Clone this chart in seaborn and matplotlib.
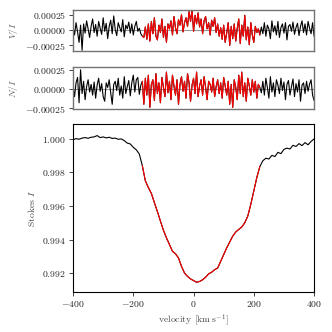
import numpy as np
import pandas as pd
import matplotlib
matplotlib.use("Agg")
import matplotlib.pyplot as plt
import seaborn as sns
from matplotlib.ticker import FuncFormatter, FixedLocator

sns.set_style("ticks")
plt.rcParams['font.family'] = 'serif'
plt.rcParams['font.serif'] = ['cmr10', 'DejaVu Serif']
plt.rcParams['mathtext.fontset'] = 'cm'
plt.rcParams['axes.unicode_minus'] = False
plt.rcParams['axes.formatter.use_mathtext'] = True

# ---- data ----
# Stokes V/I (units of 1e-5), -400..400 km/s
V_left = [5, -8, 12, -3, -20, 8, -33, 10, -5, 15, 2, -12, 6, 18, -4, 9, -10, 14, 3, -7,
          20, -2, 11, -14, 6, 16, -6, 23, 1, -9, 12, 4, -3, 17, -11, 8, 2, 13, -5, 10,
          -8, 6, 14, -2, 3, -6, -10]
V_mid = [-12, 5, -15, 10, -18, 14, -6, 20, -10, -16, 8, -4, 18, -12, 6, -20, 10, 2, 15, -8,
         22, 4, -6, 17, 8, 25, -3, 12, 20, 6, 30, 14, 33, -2, 24, 10, 28, 5, 18, -6,
         15, 22, 2, 12, -8, 16, 6, 20, -4, 10, -10, 4, -15, 8, -20, -5, 12, -25, 6, -14,
         10, -18, 3, 18, -22, 8, -10, 24, -16, 5, -24, 12, -8, -20, 6, -4, 2, -8]
V_right = [5, -6, 12, -10, 8, 2, -14, 15, -3, 7, -8, 14, -12, 4, 10, -5, 12, -16, 6, 9,
           -2, 13, -7, 4, 11, -9, 6, 15, -4, 10, -8, 14, 3, -6, 12, -10]

# Null N/I (units of 1e-5)
N_left = [4, -10, 8, 15, -18, 25, -6, 10, -14, 3, 12, -4, 6, -8, 9, -12, 5, 14, -3, 7,
          -10, -16, 8, 2, 12, -5, -20, 6, 10, -2, 14, -8, 4, -12, 16, -6, 3, 11, -9, 8,
          18, -4, 12, 15, -7, 5, 10]
N_mid = [-20, 14, -8, 18, -24, 6, 12, -15, 20, -6, 8, -18, 15, 2, -10, 22, -5, 10, -14, 18,
         4, -8, 12, -20, 6, 16, -3, 10, -12, 20, 8, -16, 5, 14, -6, 22, -10, 4, 12, -8,
         16, 2, -14, 10, 6, -4, 14, -10, 3, 12, -6, 8, -12, 15, 4, -8, 10, -20, 6, -24,
         12, 2, -14, 18, -6, 22, -10, 8, -16, 14, 4, -8, 12, -4, 10, -12, 6, 2]
N_right = [-5, 10, -8, 14, 2, -12, 16, -4, 8, -10, 12, 5, -6, 14, -2, 9, -14, 6, 11, -8,
           3, 13, -10, 7, -4, 12, -16, 5, 8, -6, 10, -3, 6, 12, -8, -15]

# Stokes I, -400..400 km/s every 10 km/s
I_vals = [0.99995, 1.00002, 0.99998, 1.00005, 1.00008, 1.00004, 1.00010, 1.00012, 1.00020, 1.00008,
          1.00012, 1.00006, 1.00010, 1.00003, 1.00005, 0.99998, 1.00000, 0.99990, 0.99975, 0.99970,
          0.99950, 0.99935, 0.99910, 0.99840, 0.99750, 0.99710, 0.99675, 0.99620, 0.99567, 0.99510,
          0.99455, 0.99410, 0.99370, 0.99330, 0.99315, 0.99290, 0.99240, 0.99200, 0.99180, 0.99165,
          0.99155, 0.99145, 0.99150, 0.99160, 0.99175, 0.99195, 0.99205, 0.99220, 0.99230, 0.99270,
          0.99310, 0.99350, 0.99385, 0.99420, 0.99445, 0.99460, 0.99475, 0.99500, 0.99540, 0.99610,
          0.99690, 0.99770, 0.99835, 0.99870, 0.99885, 0.99880, 0.99902, 0.99895, 0.99920, 0.99912,
          0.99938, 0.99945, 0.99940, 0.99962, 0.99955, 0.99972, 0.99960, 0.99978, 0.99965, 0.99985,
          1.00000]

v_min, v_max = -400, 400
line_lo, line_hi = -170, 220
x_ticks = [-400, -200, 0, 200, 400]
I_ticks = [0.992, 0.994, 0.996, 0.998, 1.000]
pol_ticks = [-0.00025, 0.0, 0.00025]

V = np.array(V_left + V_mid + V_right) * 1e-5
N = np.array(N_left + N_mid + N_right) * 1e-5
vel_p = np.linspace(v_min, v_max, len(V))
vel_n = np.linspace(v_min, v_max, len(N))
I = np.array(I_vals)
vel_i = np.linspace(v_min, v_max, len(I))

fig = plt.figure(figsize=(3.32, 3.32), dpi=100)
ax1 = fig.add_axes([0.22, 0.846, 0.726, 0.124])
ax2 = fig.add_axes([0.22, 0.672, 0.726, 0.127])
ax3 = fig.add_axes([0.22, 0.1205, 0.726, 0.506])

def draw(ax, vel, y):
    df = pd.DataFrame({'v': vel, 'y': y})
    sns.lineplot(data=df, x='v', y='y', color='black', lw=0.8, ax=ax,
                 estimator=None, sort=False)
    m = (df.v >= line_lo - 3) & (df.v <= line_hi + 3)
    sns.lineplot(data=df[m], x='v', y='y', color='red', lw=0.8, ax=ax,
                 estimator=None, sort=False)

for ax, vel, y, lab in [(ax1, vel_p, V, '$V/I$'), (ax2, vel_n, N, '$N/I$')]:
    ax.axhline(0, color='0.6', lw=0.8, zorder=0)
    draw(ax, vel, y)
    ax.set_xlim(v_min, v_max)
    ax.set_xticks([])
    ax.set_xlabel('')
    ax.yaxis.set_major_locator(FixedLocator(pol_ticks))
    ax.yaxis.set_major_formatter(FuncFormatter(lambda x, p: '$%.5f$' % x))
    ax.set_ylabel(lab, fontsize=7, color='0.4')
    for s in ax.spines.values():
        s.set_color('0.45')
        s.set_linewidth(1.0)
    ax.tick_params(axis='y', labelsize=7, length=3, width=0.6, pad=2)

ax1.set_ylim(-0.000343, 0.000327)
ax2.set_ylim(-0.00026, 0.00029)

draw(ax3, vel_i, I)
ax3.set_xlim(v_min, v_max)
ax3.set_ylim(0.99087, 1.00089)
ax3.xaxis.set_major_locator(FixedLocator(x_ticks))
ax3.xaxis.set_major_formatter(FuncFormatter(lambda x, p: '$%d$' % x))
ax3.yaxis.set_major_locator(FixedLocator(I_ticks))
ax3.yaxis.set_major_formatter(FuncFormatter(lambda x, p: '$%.3f$' % x))
ax3.set_ylabel('Stokes $I$', fontsize=7, color='0.3')
ax3.set_xlabel(r'velocity [$\mathrm{km\,s^{-1}}$]', fontsize=7, color='0.3', labelpad=2)
ax3.tick_params(labelsize=7, length=3, width=0.6, pad=2)
for s in ax3.spines.values():
    s.set_color('black')
    s.set_linewidth(0.8)

fig.savefig('out.png', dpi=100)
